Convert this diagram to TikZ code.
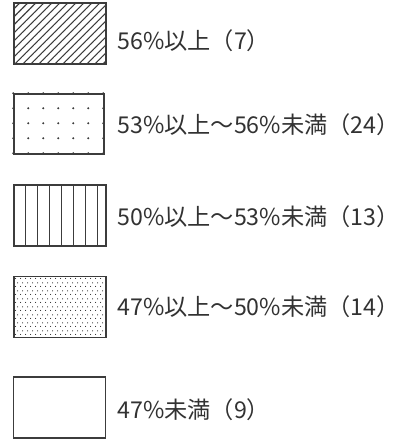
\documentclass[tikz,border=0pt]{standalone}
\usepackage{fontspec}
\setmainfont{Noto Sans CJK JP}
\definecolor{legline}{RGB}{60,60,60}
\definecolor{legtext}{RGB}{50,50,50}
\usetikzlibrary{patterns.meta,calc}

\tikzdeclarepattern{
  name=stagdots, type=uncolored,
  bottom left={(0pt,0pt)}, top right={(2.5pt,4pt)}, tile size={(2.5pt,4pt)},
  code={
    \fill (0.3pt,0.3pt) circle (0.35pt);
    \fill (1.55pt,2.3pt) circle (0.35pt);
  }}

\begin{document}
\begin{tikzpicture}[x=0.5pt, y=-0.5pt,
    every node/.style={font=\fontsize{11.6pt}{13pt}\selectfont, text=legtext},
    legbox/.style={draw=legline, line width=0.75pt, inner sep=0pt,
      minimum width=46pt, minimum height=30.5pt},
    legtxt/.style={anchor=west, inner sep=0pt}]
    \useasboundingbox (0,0) rectangle (414,439);

    % Legend boxes
    \node[legbox, pattern={Lines[angle=45, distance=2.83pt, line width=0.55pt]}, pattern color=legline] (hatch) at (60,33.5) {};
    \node[legbox, minimum width=45pt, minimum height=30pt] (dots) at (59,124) {};
    \node[legbox] (vlines) at (60,215.5) {};
    \node[legbox, pattern=stagdots, pattern color=legline] (fine) at (60,307) {};
    \node[legbox] (blank) at (59.5,407.5) {};

    % Coarse dots
    \foreach \i in {0,...,6}
      \foreach \j in {0,...,4}
        \fill[legline] ($(dots.north west)+(\i*15,\j*15)$) circle (1.2);

    % Vertical lines
    \foreach \i in {1,...,7}
      \draw[legline, line width=0.6pt] ($(vlines.north west)+(\i*12,0)$) -- ($(vlines.south west)+(\i*12,0)$);

    % Labels
    \node[legtxt] (t1) at (117,41) {56\%以上（7）};
    \node[legtxt] (t2) at (117,125) {53\%以上～56\%未満（24）};
    \node[legtxt] (t3) at (117,217) {50\%以上～53\%未満（13）};
    \node[legtxt] (t4) at (117,307) {47\%以上～50\%未満（14）};
    \node[legtxt] (t5) at (117,410) {47\%未満（9）};
\end{tikzpicture}
\end{document}
